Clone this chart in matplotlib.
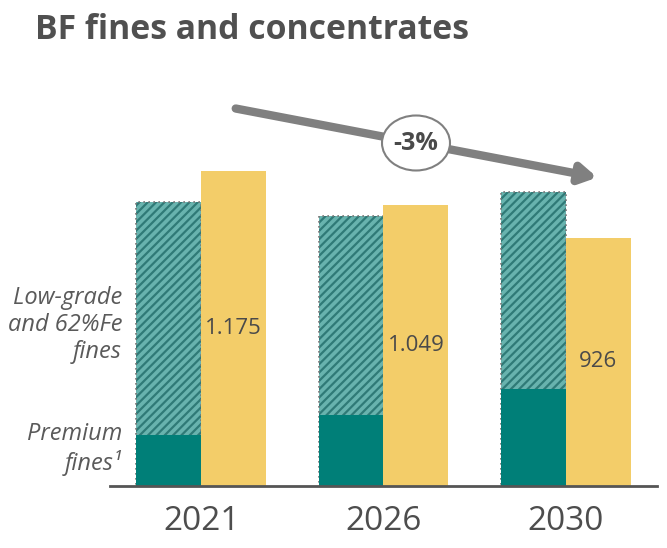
import numpy as np
import matplotlib
matplotlib.use('Agg')
import matplotlib.pyplot as plt
from matplotlib.patches import Ellipse, FancyArrowPatch

plt.rcParams['font.family'] = ['Open Sans', 'DejaVu Sans']
plt.rcParams['hatch.linewidth'] = 1.6

# kt
years = ['2021', '2026', '2030']
concentrates = [1175, 1049, 926]
low_grade_total = [1059, 1007, 1097]
premium = [190, 265, 362]
value_labels = ['1.175', '1.049', '926']

TEAL = '#007f78'
TEAL_LIGHT = '#68b3ae'
TEAL_HATCH = '#2f7a77'
YELLOW = '#f3cd69'
GREY = '#555555'

W, H = 667, 548
fig = plt.figure(figsize=(W / 100, H / 100), dpi=100)
ax = fig.add_axes([110 / W, (H - 486) / H, 547 / W, (486 - 60) / H])

x = np.arange(len(years))
bw = 0.356

ax.bar(x - bw / 2, low_grade_total, bw, color=TEAL_LIGHT, edgecolor=TEAL_HATCH,
       hatch='////', linewidth=0)
ax.bar(x - bw / 2, low_grade_total, bw, fill=False, edgecolor='#777777',
       linestyle=(0, (1, 2)), linewidth=1.2)
ax.bar(x - bw / 2, premium, bw, color=TEAL, linewidth=0)
ax.bar(x + bw / 2, concentrates, bw, color=YELLOW, linewidth=0)

for xi, v, lab in zip(x, concentrates, value_labels):
    ax.text(xi + bw / 2, v * 0.5, lab, ha='center', va='center',
            fontsize=16, color='#4a4a4a')

ax.set_xlim(-0.5, 2.5)
ax.set_ylim(0, (486 - 60) / 0.268)
for s in ['top', 'right', 'left']:
    ax.spines[s].set_visible(False)
ax.spines['bottom'].set_color(GREY)
ax.spines['bottom'].set_linewidth(2)
ax.set_yticks([])
ax.set_xticks(x)
ax.set_xticklabels(years, fontsize=24, color='#4d4d4d')
ax.tick_params(axis='x', length=0, pad=14)

# segment names on the left
fig.text(122 / W, 1 - 325 / H, 'Low-grade\nand 62%Fe\nfines', ha='right', va='center',
         fontsize=17, style='italic', color='#5a5a5a', linespacing=1.15)
fig.text(122 / W, 1 - 449 / H, 'Premium\nfines¹', ha='right', va='center',
         fontsize=17, style='italic', color='#5a5a5a', linespacing=1.15)

# trend arrow with CAGR bubble
fig.add_artist(FancyArrowPatch(
    (233 / W, 1 - 108 / H), (600 / W, 1 - 178 / H), transform=fig.transFigure,
    arrowstyle='-|>,head_length=6,head_width=3.5', mutation_scale=1.6,
    color='#808080', linewidth=6))
fig.add_artist(Ellipse((416 / W, 1 - 143 / H), 68 / W, 55 / H, transform=fig.transFigure,
                       facecolor='white', edgecolor='#808080', linewidth=1.5))
fig.text(416 / W, 1 - 144 / H, '-3%', ha='center', va='center', fontsize=18,
         fontweight='bold', color='#4a4a4a')

fig.text(35 / W, 1 - 30 / H, 'BF fines and concentrates', ha='left', va='center',
         fontsize=24.3, fontweight='bold', color='#505050')

fig.savefig('out.png', dpi=100)
